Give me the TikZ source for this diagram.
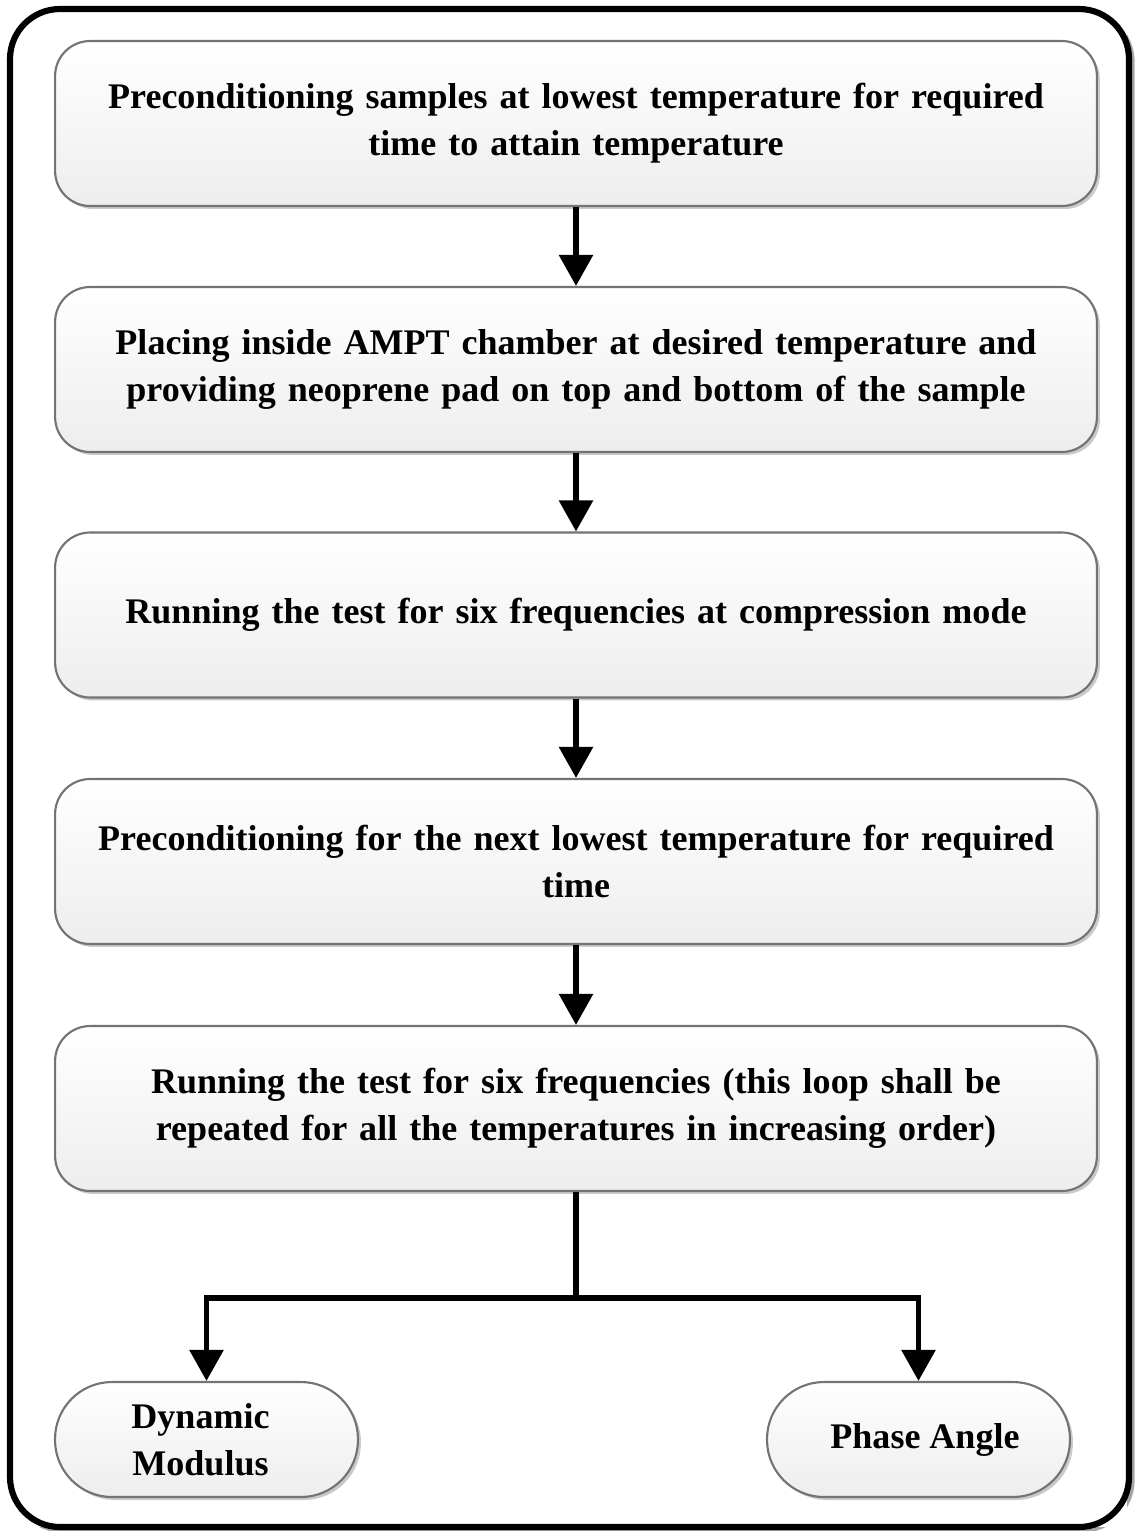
\documentclass[tikz,border=0pt]{standalone}
\usepackage{fontspec}
\setmainfont{Liberation Serif}
\usetikzlibrary{shadows,arrows.meta}
\begin{document}
\begin{tikzpicture}[x=0.02cm,y=-0.02cm,
  stepbox/.style={draw=black!55, line width=1.2pt, rounded corners=0.7cm,
    top color=white, bottom color=black!7,
    drop shadow={shadow xshift=0.06cm, shadow yshift=-0.06cm, fill=black!35, opacity=0.6},
    minimum width=20.84cm, minimum height=3.3cm, align=center,
    font=\fontsize{20.5}{26.6}\selectfont\bfseries, text width=20cm},
  endbox/.style={draw=black!55, line width=1.2pt, rounded corners=1.14cm,
    top color=white, bottom color=black!7,
    drop shadow={shadow xshift=0.06cm, shadow yshift=-0.06cm, fill=black!35, opacity=0.6},
    minimum width=6.06cm, minimum height=2.3cm, align=center,
    font=\fontsize{20.5}{26.6}\selectfont\bfseries},
  arr/.style={line width=3.2pt, -{Triangle[length=0.62cm,width=0.66cm]}},
  conn/.style={line width=3.2pt}
]
\useasboundingbox (0,0) rectangle (1135,1531);
\begin{scope}
\clip (0,0) -- (1135,0) -- (1135,1531) -- (0,1531) -- (0,1527) -- (1127,1527) -- (1127,9) -- (0,9) -- cycle;
\draw[line width=3pt, black!35, rounded corners=1.0cm] (13,12) rectangle (1132,1530);
\end{scope}
\draw[line width=3.5pt, rounded corners=1.0cm] (10,9) rectangle (1129,1527);
\node[stepbox] (b1) at (576,123.5) {Preconditioning samples at lowest temperature for required\\ time to attain temperature};
\node[stepbox] (b2) at (576,369.5) {Placing inside AMPT chamber at desired temperature and\\ providing neoprene pad on top and bottom of the sample};
\node[stepbox] (b3) at (576,615) {Running the test for six frequencies at compression mode};
\node[stepbox] (b4) at (576,861.5) {Preconditioning for the next lowest temperature for required\\ time};
\node[stepbox] (b5) at (576,1108.5) {Running the test for six frequencies (this loop shall be\\ repeated for all the temperatures in increasing order)};
\node[endbox] (e1) at (206.5,1439.5) {\hspace*{-0.24cm}Dynamic\\ \hspace*{-0.24cm}Modulus};
\node[endbox] (e2) at (918.5,1439.5) {\hspace*{0.26cm}Phase Angle};
\draw[arr] (b1) -- (b2);
\draw[arr] (b2) -- (b3);
\draw[arr] (b3) -- (b4);
\draw[arr] (b4) -- (b5);
\coordinate (j) at (576,1298);
\draw[conn] (b5.south) -- (j);
\draw[arr] (j) -| (e1.north);
\draw[arr] (j) -| (e2.north);
\end{tikzpicture}
\end{document}
